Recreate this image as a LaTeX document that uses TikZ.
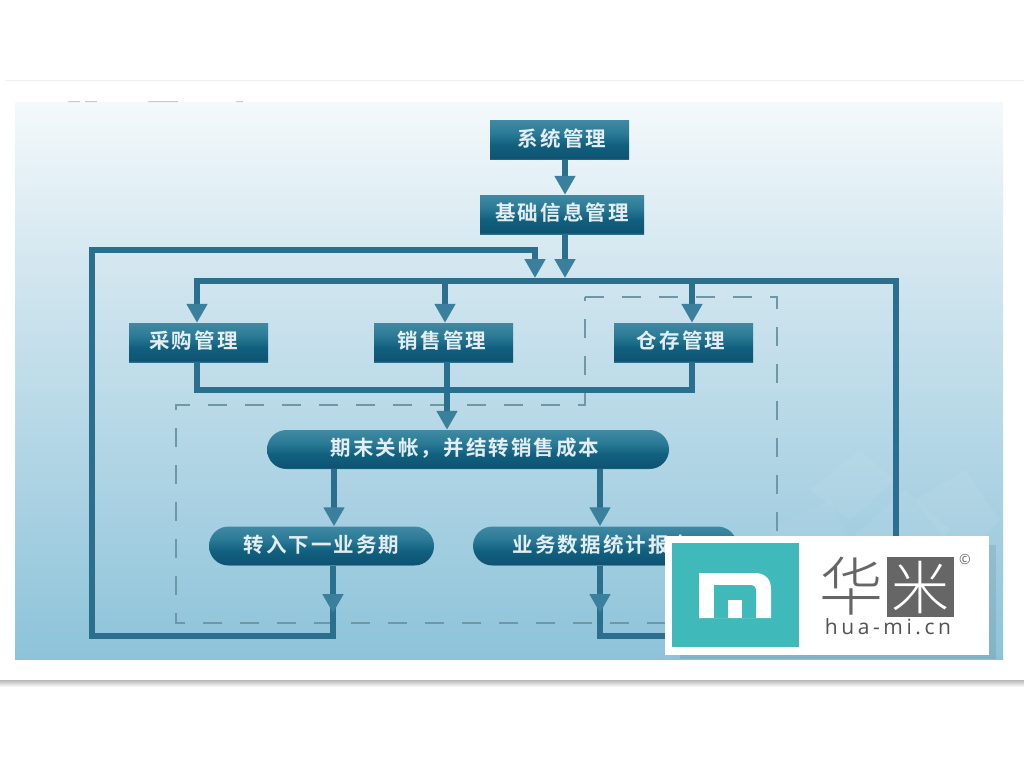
\documentclass[tikz,border=0pt]{standalone}
\usepackage{fontspec}
\usetikzlibrary{arrows.meta,shapes.misc,calc}
\newfontfamily\cjk[LetterSpace=10,BoldFont={Noto Sans CJK SC Bold}]{Noto Sans CJK SC}
\newfontfamily\cjklogo{Noto Sans CJK SC Light}
\setmainfont{Open Sans}
\definecolor{linec}{HTML}{2A708E}
\definecolor{headc}{HTML}{3A7F9C}
\definecolor{dashc}{HTML}{6E98A8}
\definecolor{teal1}{HTML}{3FB9B9}
\definecolor{logogray}{HTML}{666666}
\definecolor{SH1}{HTML}{0E5472}
\definecolor{SH2}{HTML}{2A6F8A}
\definecolor{SH3}{HTML}{11607F}
\definecolor{SH4}{HTML}{2A7A96}
\definecolor{SH5}{HTML}{4189A3}
\definecolor{BG0}{HTML}{F4F9FB}
\definecolor{BG1}{HTML}{D2E6EF}
\definecolor{BG2}{HTML}{ABD2E3}
\definecolor{BG3}{HTML}{8DC3D9}
\pgfdeclareverticalshading{boxshade}{100bp}{
  color(0bp)=(SH2);color(25bp)=(SH2);color(27bp)=(SH1);color(44bp)=(SH3);
  color(58bp)=(SH4);color(75bp)=(SH5);color(100bp)=(SH5)}
\pgfdeclareverticalshading{bgshade}{100bp}{
  color(0bp)=(BG3);color(25bp)=(BG3);color(40bp)=(BG2);color(60bp)=(BG1);color(75bp)=(BG0);color(100bp)=(BG0)}
\tikzset{
  x=1pt,y=-1pt,
  flowbox/.style={shade,shading=boxshade,rectangle,minimum height=39pt,inner sep=0pt,
    text height=16pt,text depth=3.4pt,
    text=white,font=\cjk\bfseries\fontsize{20.5pt}{20.5pt}\selectfont,text opacity=.88},
  flowpill/.style={flowbox,rounded rectangle},
  flowline/.style={draw=linec,line width=6.5pt,line join=miter},
  flowarrow/.style={flowline,-{Triangle[width=20pt,length=19pt,color=headc]}},
  dashbox/.style={draw=dashc,line width=1.8pt,dash pattern=on 19pt off 18pt},
}
\begin{document}
\begin{tikzpicture}
\useasboundingbox (0,0) rectangle (1024,768);
\fill[white] (0,0) rectangle (1024,768);
% page frame
\fill[black!6] (5,80) rectangle (1024,81);
\shade[top color=black!28,bottom color=white] (0,680) rectangle (1024,687);
% panel
\fill[shading=bgshade,shade] (15,102) rectangle (1003,659);
\fill[black!45,opacity=.45] (68,101) rectangle (80,102) (85,101) rectangle (97,102) (148,101) rectangle (178,102) (236,101) rectangle (243,102);
% faint background texture
\fill[white,opacity=.05] (810,490) -- (860,450) -- (895,480) -- (850,520) -- cycle;
\fill[white,opacity=.05] (850,540) -- (905,490) -- (950,530) -- (900,580) -- cycle;
\fill[white,opacity=.06] (915,500) -- (965,470) -- (1000,520) -- (960,560) -- cycle;
\fill[white,opacity=.04] (770,530) -- (830,500) -- (850,540) -- (800,570) -- cycle;
% dashed boundary
\draw[dashbox] (585,297) -- (777,297) -- (777,623) -- (176,623) -- (176,405) -- (585,405) -- cycle;
% nodes
\node[flowbox,minimum width=139pt] (sys) at (559.5,140) {\hspace*{5pt}系统管理};
\node[flowbox,minimum width=164pt] (base) at (562,214.5) {基础信息管理};
\node[flowbox,minimum width=139pt] (buy) at (198.5,342.5) {\hspace*{-10pt}采购管理};
\node[flowbox,minimum width=139pt] (sale) at (443.5,342.5) {\hspace*{-3pt}销售管理};
\node[flowbox,minimum width=139pt] (store) at (683.5,342.5) {\hspace*{-5pt}仓存管理};
\node[flowpill,minimum width=402pt] (close) at (468,449.5) {\hspace*{-6pt}期末关帐，并结转销售成本};
\node[flowpill,minimum width=225pt] (next) at (321.5,546) {转入下一业务期};
\node[flowpill,minimum width=264pt] (stat) at (605,546) {\hspace*{-6pt}业务数据统计报表};
% junction coordinates
\coordinate (busL) at (197,281);
\coordinate (busR) at (896,281);
\coordinate (inA) at (565,281);
\coordinate (busM) at (445,281);
\coordinate (busS) at (692,281);
\coordinate (joinL) at (197,390);
\coordinate (joinM) at (447,390);
\coordinate (joinR) at (692,390);
\coordinate (colL) at (334,500);
\coordinate (loopLb) at (333,636);
\coordinate (loopLc) at (92,636);
\coordinate (loopLd) at (92,250);
\coordinate (loopLe) at (535,250);
\coordinate (loopRb) at (600,636);
\coordinate (loopRc) at (896,636);
\coordinate (midL) at (333,613);
\coordinate (midR) at (600,613);
\coordinate (tipA) at (565,278);
\coordinate (tipB) at (535,278);
% connectors
\draw[flowarrow] (sys.south -| inA) -- (base.north -| inA);
\draw[flowarrow] (base.south -| inA) -- (tipA);
\draw[flowarrow] (stat.south -| loopRb) -- (loopRb) -- (loopRc) -- (busR) -- (busL) -- (buy.north -| busL);
\draw[flowarrow] (busM) -- (sale.north -| busM);
\draw[flowarrow] (busS) -- (store.north -| busS);
\draw[flowline] (buy.south -| joinL) -- (joinL) -- (joinR) -- (store.south -| joinR);
\draw[flowarrow] (sale.south -| joinM) -- (close.north -| joinM);
\draw[flowarrow] (close.south -| colL) -- (next.north -| colL);
\draw[flowarrow] (close.south -| midR) -- (stat.north -| midR);
\draw[flowarrow] (next.south -| loopLb) -- (loopLb) -- (loopLc) -- (loopLd) -- (loopLe) -- (tipB);
\draw[flowarrow] (next.south -| midL) -- (midL);
\draw[flowarrow] (stat.south -| midR) -- (midR);
% logo
\fill[black,opacity=.08] (680,655) rectangle (996,659);
\fill[black,opacity=.08] (989,545) rectangle (996,655);
\fill[white] (665,536) rectangle (989,655);
\fill[teal1] (672,543) rectangle (799,647);
\fill[white] (699,618) -- (699,573) -- (755,573) .. controls (765,573) and (771,579) .. (771,589) -- (771,618) -- cycle;
\fill[teal1] (714,618) -- (714,585) -- (750,585) .. controls (754,585) and (756,587) .. (756,591) -- (756,618) -- cycle;
\fill[white] (728,600) rectangle (742,618);
\node[inner sep=0pt,text=logogray,font=\cjklogo\fontsize{64pt}{64pt}\selectfont] (hua) at (851,586) {华};
\node[fill=logogray,minimum width=67pt,minimum height=60pt,inner sep=0pt,text=white,font=\cjklogo\fontsize{58pt}{58pt}\selectfont] (mi) at (920.5,587) {米};
\node[inner sep=0pt,text=black!68,text height=13pt,text depth=0pt,font=\addfontfeatures{LetterSpace=17}\fontsize{21pt}{21pt}\selectfont] (url) at (888,628) {hua-mi.cn};
\node[inner sep=0pt,text=logogray,font=\fontsize{14pt}{14pt}\selectfont] (copy) at (965,559) {©};
\end{tikzpicture}
\end{document}
